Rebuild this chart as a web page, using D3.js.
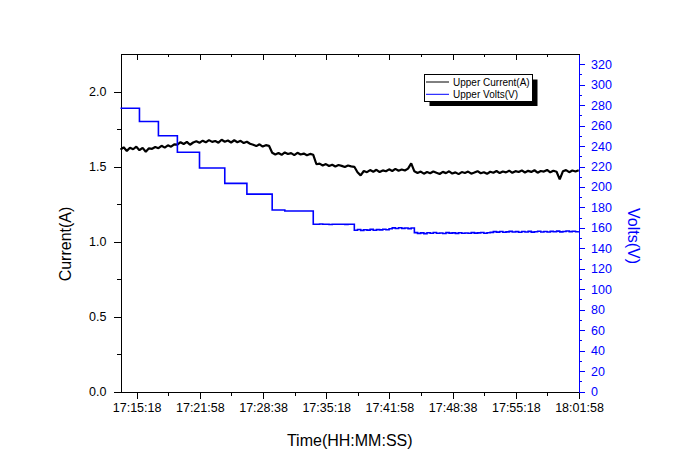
<!DOCTYPE html>
<html><head><meta charset="utf-8">
<script src="https://cdn.jsdelivr.net/npm/d3@7"></script>
<style>
html,body{margin:0;padding:0;background:#fff;}
svg{display:block;}
text{font-family:"Liberation Sans",Arial,sans-serif;}
</style></head>
<body><svg id="chart" width="673" height="470"></svg>
<script>
// ---- data ----
const timeDomain = ["17:13:36", "18:01:58"];
const sampleStart = "17:13:36";
const sampleStepSeconds = 20;
const currentValues = [
 1.612,1.628,1.604,1.625,1.615,1.632,1.609,1.624,1.598,1.621,
 1.618,1.630,1.622,1.638,1.626,1.641,1.632,1.648,1.646,1.662,
 1.650,1.664,1.645,1.660,1.668,1.658,1.672,1.661,1.676,1.664,
 1.670,1.659,1.678,1.665,1.673,1.660,1.675,1.662,1.671,1.656,
 1.665,1.652,1.645,1.636,1.648,1.633,1.642,1.638,1.592,1.580,
 1.590,1.578,1.594,1.583,1.589,1.576,1.591,1.580,1.586,1.575,
 1.584,1.578,1.515,1.519,1.507,1.516,1.503,1.512,1.500,1.510,
 1.504,1.497,1.507,1.501,1.498,1.462,1.441,1.470,1.462,1.476,
 1.465,1.478,1.463,1.474,1.468,1.481,1.470,1.484,1.472,1.480,
 1.473,1.486,1.521,1.468,1.457,1.466,1.452,1.463,1.455,1.467,
 1.458,1.450,1.464,1.456,1.468,1.453,1.461,1.449,1.463,1.457,
 1.466,1.452,1.460,1.469,1.455,1.462,1.451,1.465,1.458,1.470,
 1.456,1.467,1.461,1.472,1.458,1.469,1.463,1.474,1.460,1.471,
 1.464,1.475,1.459,1.470,1.466,1.477,1.461,1.472,1.465,1.414,
 1.468,1.476,1.462,1.473,1.467,1.475
];
const voltValues = [
 277,277,277,277,277,277,
 264,264,264,264,264,264,
 250,250,250,250,250,250,
 234,234,234,234,234,234,234,
 218.5,218.5,218.5,218.5,218.5,218.5,218.5,218.5,
 203.5,203.5,203.5,203.5,203.5,203.5,203.5,
 193,193,193,193,193,193,193,193,
 177.5,177.5,177.5,177.5,176.5,176.5,176.5,176.5,176.5,176.5,176.5,176.5,176.5,
 163.5,163.5,163.8,163.5,163.5,163.3,163.5,163.6,163.5,163.5,163.4,163.5,163.5,
 157.6,158.4,157.5,158.2,157.8,158.5,157.7,158.3,158.0,158.6,158.1,
 159.2,160.0,159.4,160.1,159.5,159.9,159.3,159.8,
 155.3,154.6,155.1,154.4,155.2,154.8,155.4,154.7,155.0,154.5,155.3,154.9,
 155.1,154.6,155.2,154.8,155.0,154.7,155.3,154.9,155.1,155.5,154.8,155.2,
 155.6,156.3,155.8,156.5,155.7,156.1,156.6,155.9,156.3,155.7,156.4,156.0,156.6,155.8,
 156.2,156.7,156.0,156.4,155.9,156.6,156.2,156.8,156.1,156.5,156.9,156.3,156.7,156.2,156.6
];
const xTickLabels = ["17:15:18","17:21:58","17:28:38","17:35:18","17:41:58","17:48:38","17:55:18","18:01:58"];
const xMinorLabels = ["17:18:38","17:25:18","17:31:58","17:38:38","17:45:18","17:51:58","17:58:38"];
const leftTicks = [0, 0.5, 1.0, 1.5, 2.0];
const leftMinorTicks = [0.25, 0.75, 1.25, 1.75];
const leftDomain = [0, 2.25];
const rightTicks = [0,20,40,60,80,100,120,140,160,180,200,220,240,260,280,300,320];
const rightMinorTicks = [10,30,50,70,90,110,130,150,170,190,210,230,250,270,290,310];
const rightDomain = [0, 330];
const seriesNames = ["Upper Current(A)", "Upper Volts(V)"];
const axisTitles = {x: "Time(HH:MM:SS)", left: "Current(A)", right: "Volts(V)"};

// ---- drawing ----
const parse = d3.timeParse("%H:%M:%S");
const fmt = d3.timeFormat("%H:%M:%S");
const t0 = parse(sampleStart);
const samples = currentValues.map((c, i) => ({
  t: new Date(t0.getTime() + i * sampleStepSeconds * 1000),
  c: c, v: voltValues[i]
}));

const L = 120.5, R = 579, T = 54, B = 391.5;
const BLUE = "#0000ff";
const svg = d3.select("#chart");

const x = d3.scaleTime().domain(timeDomain.map(parse)).range([L, R]);
const yL = d3.scaleLinear().domain(leftDomain).range([B, T]);
const yR = d3.scaleLinear().domain(rightDomain).range([B, T]);

function styleAxis(g, color, fs) {
  g.selectAll("path").attr("stroke", color).attr("stroke-width", 1).attr("shape-rendering", "crispEdges");
  g.selectAll("line").attr("stroke", color).attr("shape-rendering", "crispEdges");
  g.selectAll("text").attr("fill", color).attr("font-size", fs).attr("font-family", "'Liberation Sans',Arial,sans-serif");
}

// bottom axis
const xMajor = xTickLabels.map(parse);
const xMinor = xMinorLabels.map(parse);
const gxMinor = svg.append("g").attr("transform", `translate(0,${B})`)
  .call(d3.axisBottom(x).tickValues(xMinor).tickSize(4).tickFormat("").tickSizeOuter(0));
styleAxis(gxMinor, "#000", 12);
const gx = svg.append("g").attr("transform", `translate(0,${B})`)
  .call(d3.axisBottom(x).tickValues(xMajor).tickSize(7).tickPadding(5).tickFormat(fmt).tickSizeOuter(0));
styleAxis(gx, "#000", "12.5px");

// top axis (ticks inward)
const gtMinor = svg.append("g").attr("transform", `translate(0,${T})`)
  .call(d3.axisBottom(x).tickValues(xMinor).tickSize(3).tickFormat("").tickSizeOuter(0));
styleAxis(gtMinor, "#000", 12);
const gt = svg.append("g").attr("transform", `translate(0,${T})`)
  .call(d3.axisBottom(x).tickValues(xMajor).tickSize(6).tickFormat("").tickSizeOuter(0));
styleAxis(gt, "#000", 12);

// left axis
const glMinor = svg.append("g").attr("transform", `translate(${L},0)`)
  .call(d3.axisLeft(yL).tickValues(leftMinorTicks).tickSize(4).tickFormat("").tickSizeOuter(0));
styleAxis(glMinor, "#000", 12);
const gl = svg.append("g").attr("transform", `translate(${L},0)`)
  .call(d3.axisLeft(yL).tickValues(leftTicks).tickSize(7).tickPadding(7).tickFormat(d3.format(".1f")).tickSizeOuter(0));
styleAxis(gl, "#000", "12.5px");

// right axis
const grMinor = svg.append("g").attr("transform", `translate(${R},0)`)
  .call(d3.axisRight(yR).tickValues(rightMinorTicks).tickSize(3).tickFormat("").tickSizeOuter(0));
styleAxis(grMinor, BLUE, 12);
const gr = svg.append("g").attr("transform", `translate(${R},0)`)
  .call(d3.axisRight(yR).tickValues(rightTicks).tickSize(6).tickPadding(6).tickFormat(d3.format("d")).tickSizeOuter(0));
styleAxis(gr, BLUE, "12.5px");

// series
const lineC = d3.line().x(d => x(d.t)).y(d => yL(d.c));
const lineV = d3.line().x(d => x(d.t)).y(d => yR(d.v)).curve(d3.curveStepAfter);
svg.append("path").datum(samples).attr("d", lineC)
  .attr("fill", "none").attr("stroke", "#000").attr("stroke-width", 2.2).attr("stroke-linejoin", "bevel");
svg.append("path").datum(samples).attr("d", lineV)
  .attr("fill", "none").attr("stroke", BLUE).attr("stroke-width", 1.6);

// axis titles
svg.append("text").attr("x", (L + R) / 2 - 0).attr("y", 446).attr("text-anchor", "middle")
  .attr("font-size", "16px").attr("fill", "#000").text(axisTitles.x);
svg.append("text").attr("transform", "translate(71,244) rotate(-90)").attr("text-anchor", "middle")
  .attr("font-size", "16px").attr("fill", "#000").text(axisTitles.left);
svg.append("text").attr("transform", "translate(628,236) rotate(90)").attr("text-anchor", "middle")
  .attr("font-size", "16px").attr("fill", BLUE).text(axisTitles.right);

// legend
const lg = svg.append("g");
lg.append("rect").attr("x", 429.5).attr("y", 79.5).attr("width", 108).attr("height", 26.5).attr("fill", "#000");
lg.append("rect").attr("x", 424.5).attr("y", 74.5).attr("width", 108).attr("height", 26.5)
  .attr("fill", "#fff").attr("stroke", "#000").attr("stroke-width", 1).attr("shape-rendering", "crispEdges");
const legendColors = ["#000", BLUE];
seriesNames.forEach((n, i) => {
  const yy = 82 + i * 12.3;
  lg.append("line").attr("x1", 426).attr("x2", 449).attr("y1", yy).attr("y2", yy)
    .attr("stroke", legendColors[i]).attr("stroke-width", 1);
  lg.append("text").attr("x", 453).attr("y", yy + 3.5).attr("font-size", "10px").attr("fill", "#000").text(n);
});
</script></body></html>
